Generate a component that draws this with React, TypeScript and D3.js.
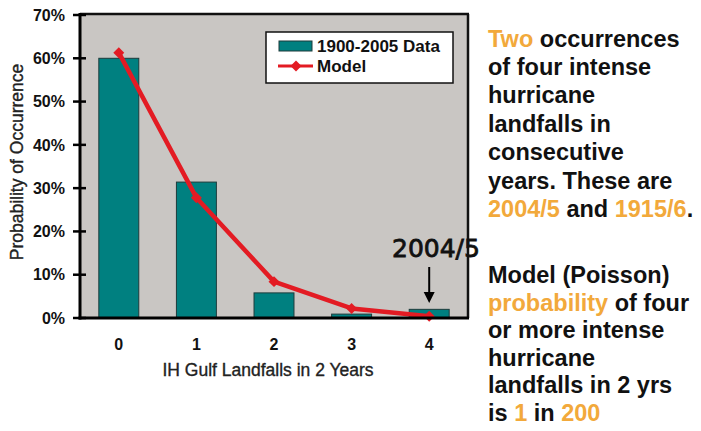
import React from "react";
import * as d3 from "d3";

const categories = ["0", "1", "2", "3", "4"];
const dataValues = [0.60, 0.314, 0.058, 0.009, 0.02];
const modelValues = [0.613, 0.278, 0.084, 0.022, 0.004];
const yTicks = [0, 0.1, 0.2, 0.3, 0.4, 0.5, 0.6, 0.7];
const seriesNames = ["1900-2005 Data", "Model"];
const xTitle = "IH Gulf Landfalls in 2 Years";
const yTitle = "Probability of Occurrence";
const annotation = "2004/5";

type Seg = { t: string; o?: boolean };
const para1: Seg[][] = [
  [{ t: "Two", o: true }, { t: " occurrences" }],
  [{ t: "of four intense" }],
  [{ t: "hurricane" }],
  [{ t: "landfalls in" }],
  [{ t: "consecutive" }],
  [{ t: "years. These are" }],
  [{ t: "2004/5", o: true }, { t: " and " }, { t: "1915/6", o: true }, { t: "." }],
];
const para2: Seg[][] = [
  [{ t: "Model (Poisson)" }],
  [{ t: "probability", o: true }, { t: " of four" }],
  [{ t: "or more intense" }],
  [{ t: "hurricane" }],
  [{ t: "landfalls in 2 yrs" }],
  [{ t: "is " }, { t: "1", o: true }, { t: " in " }, { t: "200", o: true }],
];

const W = 701, H = 431;
const L = 80, R = 468, T = 14, B = 318;
const ORANGE = "#f2a93b";
const TEAL = "#008080";
const RED = "#e31b23";
const FONT = "'Liberation Sans', Arial, sans-serif";

export default function App() {
  const x = d3.scaleBand<string>().domain(categories).range([L, R]).paddingInner(0.485).paddingOuter(0.2425);
  const y = d3.scaleLinear().domain([0, 0.7]).range([B, T + 1]);
  const cx = (c: string) => (x(c) as number) + x.bandwidth() / 2;
  const line = d3.line<number>().x((_, i) => cx(categories[i])).y((d) => y(d));
  const diamond = d3.symbol().type(d3.symbolSquare).size(60)();
  const fmt = d3.format(".0%");

  return (
    <div style={{ position: "fixed", left: 0, top: 0 }}>
      <svg width={W} height={H} style={{ display: "block", background: "#fff" }}>
        <rect x={L} y={T} width={R - L} height={B - T} fill="#c9c6c3" />
        {categories.map((c, i) => (
          <rect key={c} x={x(c)} y={y(dataValues[i])} width={x.bandwidth()} height={y(0) - y(dataValues[i])}
            fill={TEAL} stroke="#1d3b3b" strokeWidth={1} />
        ))}
        <path d={line(modelValues) || ""} fill="none" stroke={RED} strokeWidth={4.5} strokeLinejoin="round" />
        {modelValues.map((v, i) => (
          <path key={i} d={diamond || ""} transform={`translate(${cx(categories[i])},${y(v)}) rotate(45)`} fill={RED} />
        ))}
        {/* frame */}
        <line x1={L} x2={R + 1} y1={T} y2={T} stroke="#111" strokeWidth={2.5} />
        <line x1={R} x2={R} y1={T} y2={B} stroke="#111" strokeWidth={2.5} />
        <line x1={L} x2={L} y1={T - 1} y2={B + 1.5} stroke="#000" strokeWidth={3} />
        <line x1={L - 1.5} x2={R + 1} y1={B} y2={B} stroke="#000" strokeWidth={3} />
        {yTicks.map((t) => (
          <g key={t}>
            <line x1={L - 7} x2={L + 6} y1={y(t)} y2={y(t)} stroke="#000" strokeWidth={2.5} />
            <text x={65} y={y(t)} dy="0.36em" textAnchor="end" fontFamily={FONT} fontWeight="bold" fontSize={16} fill="#111">{fmt(t)}</text>
          </g>
        ))}
        {categories.map((c) => (
          <text key={c} x={cx(c)} y={350} textAnchor="middle" fontFamily={FONT} fontWeight="bold" fontSize={16} fill="#111">{c}</text>
        ))}
        <text x={268} y={376} textAnchor="middle" fontFamily={FONT} fontSize={17.5} fill="#222" stroke="#222" strokeWidth={0.35}>{xTitle}</text>
        <text transform={`translate(23,162) rotate(-90)`} textAnchor="middle" fontFamily={FONT} fontSize={17.5} fill="#222" stroke="#222" strokeWidth={0.35}>{yTitle}</text>
        {/* legend */}
        <rect x={266} y={32} width={187} height={51} fill="#fff" stroke="#111" strokeWidth={1.5} />
        <rect x={279} y={41} width={33} height={10} fill={TEAL} stroke="#1d3b3b" strokeWidth={1} />
        <text x={317} y={52} fontFamily={FONT} fontWeight="bold" fontSize={17} fill="#111">{seriesNames[0]}</text>
        <line x1={278} x2={313} y1={66} y2={66} stroke={RED} strokeWidth={3} />
        <path d={diamond || ""} transform="translate(296,66) rotate(45)" fill={RED} />
        <text x={317} y={72} fontFamily={FONT} fontWeight="bold" fontSize={17} fill="#111">{seriesNames[1]}</text>
        {/* annotation */}
        <text x={392} y={257} fontFamily="'DejaVu Sans', sans-serif" fontSize={25} fill="#111" stroke="#111" strokeWidth={0.8}>{annotation}</text>
        <line x1={cx("4")} x2={cx("4")} y1={267} y2={294} stroke="#000" strokeWidth={2} />
        <path d={`M${cx("4") - 5.5},${292} L${cx("4") + 5.5},${292} L${cx("4")},${303} Z`} fill="#000" />
        {/* right text */}
        {para1.map((segs, i) => (
          <text key={"a" + i} x={488} y={46.5 + 28.4 * i} fontFamily={FONT} fontWeight="bold" fontSize={23.5} fill="#111">
            {segs.map((s, j) => (<tspan key={j} fill={s.o ? ORANGE : "#111"}>{s.t}</tspan>))}
          </text>
        ))}
        {para2.map((segs, i) => (
          <text key={"b" + i} x={488} y={283 + 27.6 * i} fontFamily={FONT} fontWeight="bold" fontSize={23.5} fill="#111">
            {segs.map((s, j) => (<tspan key={j} fill={s.o ? ORANGE : "#111"}>{s.t}</tspan>))}
          </text>
        ))}
      </svg>
    </div>
  );
}
